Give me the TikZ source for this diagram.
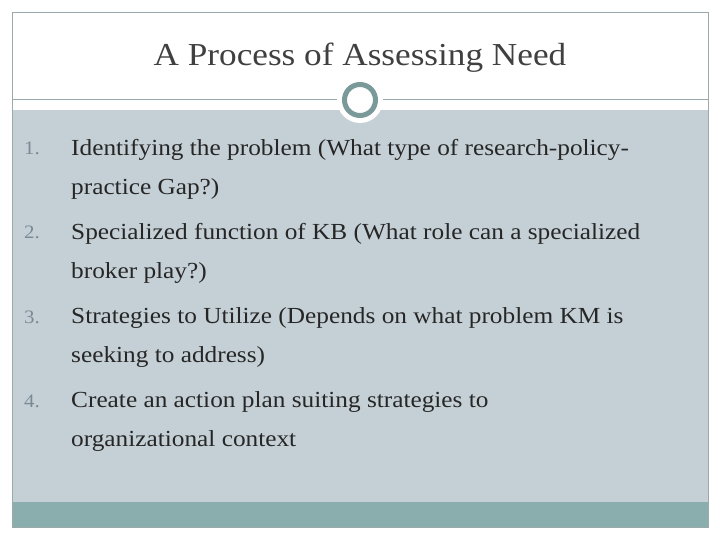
\documentclass[tikz,border=0pt]{standalone}
\usepackage{fontspec}
\setmainfont{Liberation Serif}[FakeStretch=1.1]
\definecolor{bgc}{HTML}{C5D0D6}
\definecolor{teal}{HTML}{8AADAD}
\definecolor{ring}{HTML}{7A9A9A}
\definecolor{frame}{HTML}{9AAAAA}
\definecolor{txt}{HTML}{262626}
\definecolor{ttl}{HTML}{404040}
\definecolor{num}{HTML}{7A8A95}
\tikzset{item/.style={anchor=north west,align=left,inner sep=0pt,font=\fontsize{23}{39}\selectfont,text=txt},
numl/.style={anchor=base west,inner sep=0pt,font=\fontsize{19}{20}\selectfont,text=num}}
\begin{document}
\begin{tikzpicture}[x=1pt,y=-1pt]
\useasboundingbox (0,0) rectangle (720,540);
\fill[white] (0,0) rectangle (720,540);
\fill[bgc] (12,110) rectangle (708,502);
\fill[teal] (12,502) rectangle (708,527);
\draw[frame,line width=0.8pt] (12,12) rectangle (708,527);
\draw[frame,line width=1pt] (12,100) -- (708,100);
\fill[white] (360,100) circle (23);
\draw[ring,line width=5pt,fill=white] (360,100) circle (15.5);
\node[font=\fontsize{32}{34}\selectfont,text=ttl,anchor=base] (t) at (360,66) {A Process of Assessing Need};
\node[numl] (n1) at (24,155) {1.};
\node[item] (i1) at (71,139) {Identifying the problem (What type of research-policy-\\practice Gap?)};
\node[numl] (n2) at (24,239) {2.};
\node[item] (i2) at (71,223) {Specialized function of KB (What role can a specialized\\broker play?)};
\node[numl] (n3) at (24,323) {3.};
\node[item] (i3) at (71,307) {Strategies to Utilize (Depends on what problem KM is\\seeking to address)};
\node[numl] (n4) at (24,407) {4.};
\node[item] (i4) at (71,391) {Create an action plan suiting strategies to\\organizational context};
\end{tikzpicture}
\end{document}
